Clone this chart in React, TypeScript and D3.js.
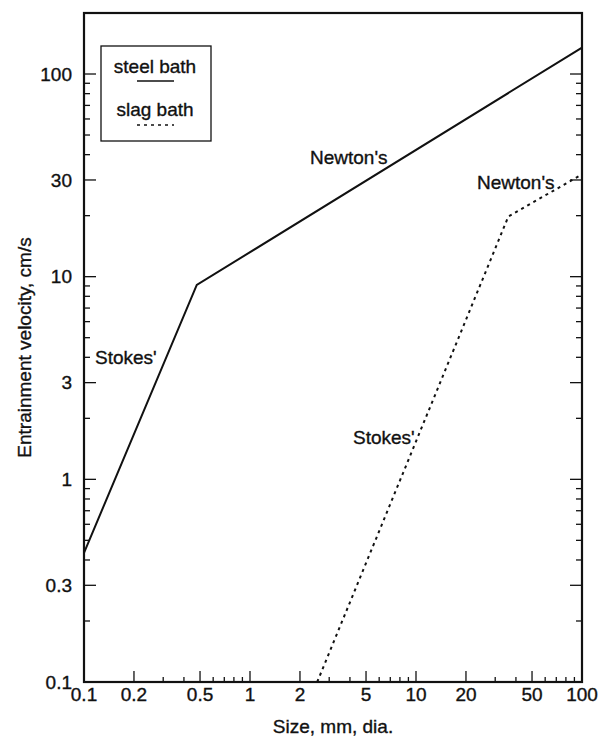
import React from "react";
import * as d3 from "d3";

// Data (size in mm, velocity in cm/s)
const steelSize = [0.1, 0.478, 100];
const steelVel = [0.434, 9.1, 135];
const slagSize = [2.54, 36, 100];
const slagVel = [0.1, 19.8, 32];

const xTickLabels = [0.1, 0.2, 0.5, 1, 2, 5, 10, 20, 50, 100];
const yTickLabels = [0.1, 0.3, 1, 3, 10, 30, 100];

const xDomain = [0.1, 100];
const yDomain = [0.1, 200];

const W = 608;
const H = 738;
const M = { left: 84, right: 582, top: 13, bottom: 682 };
const FONT = "'Liberation Sans', Arial, Helvetica, sans-serif";
const FS = 19;

export default function App() {
  const x = d3.scaleLog().domain(xDomain).range([M.left, M.right]);
  const y = d3.scaleLog().domain(yDomain).range([M.bottom, M.top]);

  const xTicks = x.ticks();
  const yTicks = y.ticks().filter((v) => v <= 200);

  const line = d3
    .line<[number, number]>()
    .x((d) => x(d[0]))
    .y((d) => y(d[1]));

  const steel = steelSize.map((s, i) => [s, steelVel[i]] as [number, number]);
  const slag = slagSize.map((s, i) => [s, slagVel[i]] as [number, number]);

  const isLab = (arr: number[], v: number) => arr.some((a) => Math.abs(a - v) / a < 1e-6);
  const fmt = (v: number) => String(+v.toPrecision(3));

  const txt = { fontSize: FS, fill: "#111", stroke: "#111", strokeWidth: 0.35 };

  return (
    <svg
      width={W}
      height={H}
      style={{ position: "absolute", left: 0, top: 0, background: "#fff" }}
      fontFamily={FONT}
    >
      <rect x={0} y={0} width={W} height={H} fill="#fff" />
      {/* y ticks left & right */}
      {yTicks.map((v, i) => {
        const yy = y(v);
        const len = isLab(yTickLabels, v) ? 12 : 6;
        return (
          <g key={"yt" + i} stroke="#111" strokeWidth={1.3}>
            <line x1={M.left} x2={M.left + len} y1={yy} y2={yy} />
            <line x1={M.right} x2={M.right - len} y1={yy} y2={yy} />
          </g>
        );
      })}
      {/* x ticks bottom */}
      {xTicks.map((v, i) => {
        const xx = x(v);
        const len = isLab(xTickLabels, v) ? 11 : 5;
        return (
          <line
            key={"xt" + i}
            x1={xx}
            x2={xx}
            y1={M.bottom}
            y2={M.bottom - len}
            stroke="#111"
            strokeWidth={1.3}
          />
        );
      })}
      {/* frame */}
      <rect
        x={M.left}
        y={M.top}
        width={M.right - M.left}
        height={M.bottom - M.top}
        fill="none"
        stroke="#111"
        strokeWidth={2.2}
      />
      {/* y labels */}
      {yTickLabels.map((v, i) => (
        <text key={"yl" + i} x={M.left - 12} y={y(v)} dy="0.35em" textAnchor="end" {...txt}>
          {fmt(v)}
        </text>
      ))}
      {/* x labels */}
      {xTickLabels.map((v, i) => (
        <text key={"xl" + i} x={x(v)} y={M.bottom + 19} textAnchor="middle" {...txt}>
          {fmt(v)}
        </text>
      ))}
      <text x={(M.left + M.right) / 2} y={733} textAnchor="middle" {...txt}>
        Size, mm, dia.
      </text>
      <text
        transform={`translate(31, ${(M.top + M.bottom) / 2}) rotate(-90)`}
        textAnchor="middle"
        {...txt}
      >
        Entrainment velocity, cm/s
      </text>

      {/* series */}
      <path d={line(steel) || ""} fill="none" stroke="#111" strokeWidth={2} />
      <path
        d={line(slag) || ""}
        fill="none"
        stroke="#111"
        strokeWidth={2}
        strokeDasharray="3,4"
      />

      {/* annotations */}
      <text x={95} y={357} dy="0.35em" {...txt}>Stokes'</text>
      <text x={310} y={157} dy="0.35em" {...txt}>Newton's</text>
      <text x={477} y={182} dy="0.35em" {...txt}>Newton's</text>
      <text x={353} y={437} dy="0.35em" {...txt}>Stokes'</text>

      {/* legend */}
      <rect x={101} y={46} width={110} height={95} fill="#fff" stroke="#111" strokeWidth={1.3} />
      <text x={155} y={66} dy="0.35em" textAnchor="middle" {...txt}>steel bath</text>
      <line x1={137} x2={174} y1={81} y2={81} stroke="#111" strokeWidth={1.5} />
      <text x={155} y={109} dy="0.35em" textAnchor="middle" {...txt}>slag bath</text>
      <line x1={137} x2={174} y1={125} y2={125} stroke="#111" strokeWidth={1.5} strokeDasharray="3,4" />
    </svg>
  );
}
